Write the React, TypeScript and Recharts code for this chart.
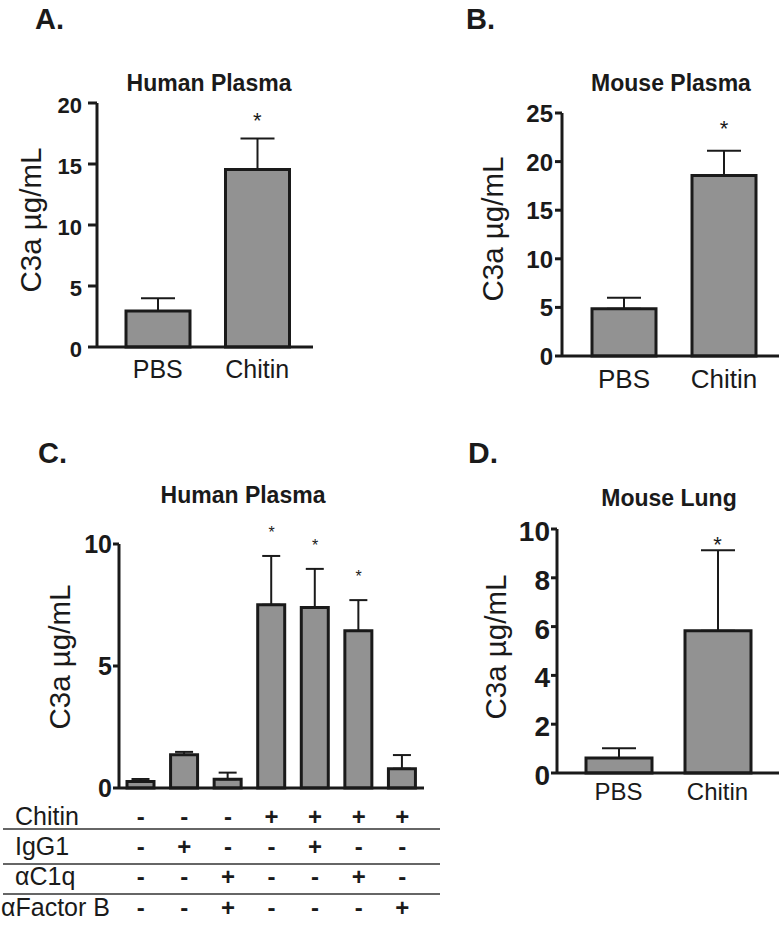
import React from 'react';
import { ComposedChart, Bar, XAxis, YAxis, ErrorBar, Line } from 'recharts';

const FONT = '"Liberation Sans", Arial, Helvetica, sans-serif';
const INK = '#1a1a1a';
const BAR_FILL = '#929292';

// ---------------- data ----------------
const treatmentGroups = ['PBS', 'Chitin'];

const humanPlasmaMean = [2.95, 14.55];
const humanPlasmaSem = [1.05, 2.55];
const humanPlasmaSignificant = [false, true];
const humanPlasmaTicks = [0, 5, 10, 15, 20];

const mousePlasmaMean = [4.85, 18.57];
const mousePlasmaSem = [1.15, 2.55];
const mousePlasmaSignificant = [false, true];
const mousePlasmaTicks = [0, 5, 10, 15, 20, 25];

const inhibitionConditions = ['1', '2', '3', '4', '5', '6', '7'];
const inhibitionMean = [0.27, 1.36, 0.36, 7.51, 7.4, 6.44, 0.79];
const inhibitionSem = [0.1, 0.12, 0.27, 2.0, 1.58, 1.26, 0.56];
const inhibitionSignificant = [false, false, false, true, true, true, false];
const inhibitionTicks = [0, 5, 10];
const chitinRow = ['-', '-', '-', '+', '+', '+', '+'];
const igg1Row = ['-', '+', '-', '-', '+', '-', '-'];
const c1qRow = ['-', '-', '+', '-', '-', '+', '-'];
const factorBRow = ['-', '-', '+', '-', '-', '-', '+'];
const conditionRowLabels = ['Chitin', 'IgG1', 'αC1q', 'αFactor B'];

const mouseLungMean = [0.61, 5.83];
const mouseLungSem = [0.4, 3.3];
const mouseLungSignificant = [false, true];
const mouseLungTicks = [0, 2, 4, 6, 8, 10];

const yAxisTitle = 'C3a µg/mL';

// ---------------- helpers ----------------
function buildRows(names: string[], mean: number[], sem: number[], sig: boolean[]) {
  return names.map((name, i) => ({
    name,
    mean: mean[i],
    errRange: [0, sem[i]],
    starAt: sig[i] ? mean[i] + sem[i] : null,
  }));
}

type PanelCfg = {
  rows: any[];
  plot: { left: number; right: number; top: number; bottom: number };
  domain: [number, number];
  ticks: number[];
  padding: { left: number; right: number };
  barSize: number;
  cap: number;
  tickSize: number;
  tickMargin: number;
  tickFont: number;
  tickDy: number;
  xTick: any;
  starFont: number;
  starGap: number;
};

function Panel(p: PanelCfg) {
  const { plot } = p;
  const yw = 60;
  const xh = 40;
  const margin = {
    top: plot.top,
    left: plot.left - yw,
    right: 780 - plot.right,
    bottom: 929 - plot.bottom - xh,
  };
  const renderYTick = (t: any) => (
    <text
      x={t.x}
      y={t.y + p.tickDy}
      textAnchor="end"
      fontFamily={FONT}
      fontWeight={700}
      fontSize={p.tickFont}
      fill={INK}
    >
      {t.payload.value}
    </text>
  );
  const renderStar = (d: any) => {
    const k = `star-${d.index}`;
    if (d.value == null || d.cy == null || Number.isNaN(d.cy)) return <g key={k} />;
    return (
      <text
        key={k}
        x={d.cx}
        y={d.cy - p.starGap + p.starFont * 0.57}
        textAnchor="middle"
        fontFamily={FONT}
        fontSize={p.starFont}
        fill={INK}
      >
        *
      </text>
    );
  };
  return (
    <div style={{ position: 'absolute', left: 0, top: 0 }}>
      <ComposedChart width={780} height={929} data={p.rows} margin={margin}>
        <XAxis
          dataKey="name"
          type="category"
          height={xh}
          padding={p.padding}
          axisLine={{ stroke: INK, strokeWidth: 3 }}
          tickLine={false}
          tick={p.xTick}
          interval={0}
        />
        <YAxis
          type="number"
          domain={p.domain}
          ticks={p.ticks}
          width={yw}
          interval={0}
          axisLine={{ stroke: INK, strokeWidth: 3 }}
          tickLine={{ stroke: INK, strokeWidth: 3 }}
          tickSize={p.tickSize}
          tickMargin={p.tickMargin}
          tick={renderYTick}
        />
        <Bar
          dataKey="mean"
          fill={BAR_FILL}
          stroke={INK}
          strokeWidth={3}
          barSize={p.barSize}
          isAnimationActive={false}
        >
          <ErrorBar dataKey="errRange" direction="y" width={p.cap} stroke={INK} strokeWidth={2} isAnimationActive={false} />
        </Bar>
        <Line
          dataKey="starAt"
          stroke="none"
          dot={renderStar}
          activeDot={false}
          isAnimationActive={false}
          legendType="none"
        />
      </ComposedChart>
    </div>
  );
}

const categoryTick = (baseline: number, size: number) => (t: any) => (
  <text x={t.x} y={baseline} textAnchor="middle" fontFamily={FONT} fontSize={size} fill={INK}>
    {t.payload.value}
  </text>
);

const signRows = [chitinRow, igg1Row, c1qRow, factorBRow];
const signBaselines = [825, 855, 885, 916];
const signTick = (t: any) => {
  const i = t.index ?? inhibitionConditions.indexOf(String(t.payload.value));
  return (
    <g>
      {signRows.map((row, r) => (
        <text
          key={r}
          x={t.x}
          y={signBaselines[r]}
          textAnchor="middle"
          fontFamily={FONT}
          fontWeight={700}
          fontSize={24}
          fill={INK}
        >
          {row[i]}
        </text>
      ))}
    </g>
  );
};

export default function App() {
  const txt = { fontFamily: FONT, fill: INK } as any;
  return (
    <div style={{ position: 'absolute', left: 0, top: 0, width: 780, height: 929, background: '#fff', overflow: 'hidden' }}>
      <Panel
        rows={buildRows(treatmentGroups, humanPlasmaMean, humanPlasmaSem, humanPlasmaSignificant)}
        plot={{ left: 97, right: 313, top: 103, bottom: 347 }}
        domain={[0, 20]}
        ticks={humanPlasmaTicks}
        padding={{ left: 11, right: 6 }}
        barSize={64}
        cap={17}
        tickSize={9}
        tickMargin={6}
        tickFont={22}
        tickDy={10}
        xTick={categoryTick(378, 25)}
        starFont={22}
        starGap={23}
      />
      <Panel
        rows={buildRows(treatmentGroups, mousePlasmaMean, mousePlasmaSem, mousePlasmaSignificant)}
        plot={{ left: 562, right: 779, top: 113, bottom: 356 }}
        domain={[0, 25]}
        ticks={mousePlasmaTicks}
        padding={{ left: 12, right: 5 }}
        barSize={64}
        cap={17}
        tickSize={7}
        tickMargin={2}
        tickFont={24}
        tickDy={9}
        xTick={categoryTick(388, 26)}
        starFont={22}
        starGap={27}
      />
      <Panel
        rows={buildRows(inhibitionConditions, inhibitionMean, inhibitionSem, inhibitionSignificant)}
        plot={{ left: 119, right: 424, top: 544, bottom: 788 }}
        domain={[0, 10]}
        ticks={inhibitionTicks}
        padding={{ left: 0, right: 0 }}
        barSize={27}
        cap={9}
        tickSize={6}
        tickMargin={1}
        tickFont={25}
        tickDy={9}
        xTick={signTick}
        starFont={16}
        starGap={27}
      />
      <Panel
        rows={buildRows(treatmentGroups, mouseLungMean, mouseLungSem, mouseLungSignificant)}
        plot={{ left: 557, right: 779, top: 529, bottom: 773 }}
        domain={[0, 10]}
        ticks={mouseLungTicks}
        padding={{ left: 12, right: 12 }}
        barSize={66}
        cap={17}
        tickSize={6}
        tickMargin={1}
        tickFont={28}
        tickDy={12}
        xTick={categoryTick(800, 24)}
        starFont={22}
        starGap={11}
      />
      <svg width={780} height={929} style={{ position: 'absolute', left: 0, top: 0, pointerEvents: 'none' }}>
        <text x={35} y={29} fontSize={29} fontWeight={700} {...txt}>A.</text>
        <text x={466} y={29} fontSize={29} fontWeight={700} {...txt}>B.</text>
        <text x={38} y={463} fontSize={29} fontWeight={700} {...txt}>C.</text>
        <text x={468} y={463} fontSize={30} fontWeight={700} {...txt}>D.</text>

        <text x={209} y={91} fontSize={23} fontWeight={700} textAnchor="middle" {...txt}>Human Plasma</text>
        <text x={671} y={91} fontSize={23} fontWeight={700} textAnchor="middle" {...txt}>Mouse Plasma</text>
        <text x={243} y={503} fontSize={23} fontWeight={700} textAnchor="middle" {...txt}>Human Plasma</text>
        <text x={669} y={506} fontSize={23} fontWeight={700} textAnchor="middle" {...txt}>Mouse Lung</text>

        <text transform="translate(41,220) rotate(-90)" fontSize={29.5} textAnchor="middle" {...txt}>{yAxisTitle}</text>
        <text transform="translate(503,229) rotate(-90)" fontSize={29.5} textAnchor="middle" {...txt}>{yAxisTitle}</text>
        <text transform="translate(70,657) rotate(-90)" fontSize={29.5} textAnchor="middle" {...txt}>{yAxisTitle}</text>
        <text transform="translate(506,647) rotate(-90)" fontSize={29.5} textAnchor="middle" {...txt}>{yAxisTitle}</text>

        {conditionRowLabels.map((lab, r) => (
          <text key={lab} x={r === 3 ? 1 : 15} y={signBaselines[r]} fontSize={25} {...txt}>{lab}</text>
        ))}
        {[829, 864, 894].map((y) => (
          <line key={y} x1={3} x2={440} y1={y} y2={y} stroke="#333" strokeWidth={1.5} />
        ))}
      </svg>
    </div>
  );
}
